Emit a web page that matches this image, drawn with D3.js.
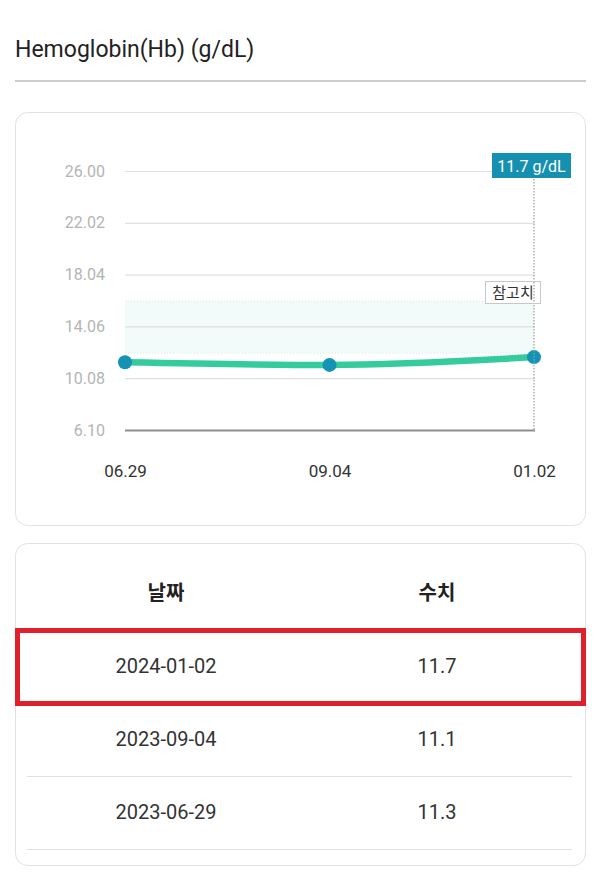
<!DOCTYPE html>
<html><head><meta charset="utf-8">
<script src="https://cdn.jsdelivr.net/npm/d3@7"></script>
<style>
html,body{margin:0;padding:0;background:#fff;}
text{font-family:Roboto,"Noto Sans CJK KR","Noto Sans",sans-serif;}
</style></head>
<body><svg id="c" width="600" height="879"></svg>
<script>
const dates = ["06.29","09.04","01.02"];
const values = [11.3, 11.1, 11.7];
const yTicks = [6.10, 10.08, 14.06, 18.04, 22.02, 26.00];
const refRange = [12, 16];
const title = "Hemoglobin(Hb) (g/dL)";
const unit = "g/dL";
const refLabel = "참고치";
const tableHeaders = ["날짜","수치"];
const tableDates = ["2024-01-02","2023-09-04","2023-06-29"];
const tableValues = ["11.7","11.1","11.3"];

const svg = d3.select("#c");

// title
svg.append("text").attr("x",15).attr("y",57).attr("font-size",23).attr("fill","#222").text(title);
svg.append("line").attr("x1",15).attr("x2",586).attr("y1",81).attr("y2",81).attr("stroke","#9a9a9a").attr("stroke-width",1.2);

// chart card
svg.append("rect").attr("x",15.5).attr("y",112.5).attr("width",570).attr("height",413).attr("rx",12)
  .attr("fill","#fff").attr("stroke","#e2e2e2");

const x = d3.scalePoint().domain(dates).range([125,534]);
const y = d3.scaleLinear().domain([6.1,26]).range([430,171]);

// reference band
const g = svg.append("g");
g.append("rect").attr("x",125).attr("width",409).attr("y",y(refRange[1])).attr("height",y(refRange[0])-y(refRange[1]))
  .attr("fill","#f3fafa");
[refRange[0],refRange[1]].forEach(v=>{
  g.append("line").attr("x1",125).attr("x2",534).attr("y1",y(v)).attr("y2",y(v))
   .attr("stroke","#dde9ea").attr("stroke-dasharray","1,2");
});

// grid + y axis
const yAxis = d3.axisLeft(y).tickValues(yTicks).tickFormat(d3.format(".2f")).tickSize(-410).tickPadding(20);
const ya = svg.append("g").attr("transform","translate(125,0)").call(yAxis);
ya.select(".domain").remove();
ya.selectAll(".tick line").attr("stroke",(d)=> d===6.10 ? "#8c9094" : "#e0e0e0").attr("stroke-width",(d)=>d===6.10?2:1.2);
ya.selectAll(".tick text").attr("fill","#b4b4b4").attr("font-size",16).attr("font-family","Roboto,sans-serif");

// x axis labels
const xa = svg.append("g").attr("transform","translate(0,430)").call(d3.axisBottom(x).tickSize(0).tickPadding(35));
xa.select(".domain").remove();
xa.selectAll(".tick text").attr("fill","#333").attr("font-size",17).attr("font-family","Roboto,sans-serif");

// vertical dotted line
svg.append("line").attr("x1",x(dates[2])).attr("x2",x(dates[2])).attr("y1",176).attr("y2",430)
  .attr("stroke","#888").attr("stroke-width",1).attr("stroke-dasharray","1.5,1.5");

// line
const line = d3.line().x((d,i)=>x(dates[i])).y(d=>y(d)).curve(d3.curveMonotoneX);
svg.append("path").datum(values).attr("d",line).attr("fill","none").attr("stroke","#34cc9c").attr("stroke-width",6.5).attr("stroke-linecap","round");
svg.selectAll("circle.pt").data(values).enter().append("circle").attr("class","pt")
  .attr("cx",(d,i)=>x(dates[i])).attr("cy",d=>y(d)).attr("r",7).attr("fill","#1593b4");
// redraw dotted line over last point
svg.append("line").attr("x1",x(dates[2])).attr("x2",x(dates[2])).attr("y1",y(values[2])-7).attr("y2",y(values[2])+7)
  .attr("stroke","#7fb8c8").attr("stroke-width",1).attr("stroke-dasharray","1.5,1.5");

// reference label
svg.append("rect").attr("x",485.5).attr("y",281.5).attr("width",55).attr("height",22).attr("fill","#fff").attr("stroke","#c8c8c8");
svg.append("text").attr("x",513).attr("y",298).attr("text-anchor","middle").attr("font-size",15).attr("fill","#333")
  .attr("font-family","'Noto Sans CJK KR',sans-serif").text(refLabel);
svg.append("line").attr("x1",x(dates[2])).attr("x2",x(dates[2])).attr("y1",282).attr("y2",303)
  .attr("stroke","#888").attr("stroke-dasharray","1.5,1.5");

// tooltip
svg.append("rect").attr("x",492).attr("y",153).attr("width",79).attr("height",25).attr("fill","#1690b0");
svg.append("text").attr("x",531.5).attr("y",171.5).attr("text-anchor","middle").attr("font-size",16).attr("fill","#fff")
  .text(values[2] + " " + unit);

// table card
svg.append("rect").attr("x",15.5).attr("y",543.5).attr("width",570).attr("height",322).attr("rx",12)
  .attr("fill","#fff").attr("stroke","#e2e2e2");
const colX = [166, 437];
tableHeaders.forEach((h,i)=>{
  svg.append("text").attr("x",colX[i]).attr("y",600).attr("text-anchor","middle").attr("font-size",20)
    .attr("font-weight","bold").attr("fill","#222").attr("font-family","'Noto Sans CJK KR',sans-serif").text(h);
});
const rowY = d3.scalePoint().domain(d3.range(tableDates.length)).range([666,812]);
tableDates.forEach((d,i)=>{
  svg.append("text").attr("x",colX[0]).attr("y",rowY(i)+7).attr("text-anchor","middle").attr("font-size",20).attr("fill","#333").text(d);
  svg.append("text").attr("x",colX[1]).attr("y",rowY(i)+7).attr("text-anchor","middle").attr("font-size",20).attr("fill","#333").text(tableValues[i]);
  svg.append("line").attr("x1",27).attr("x2",572).attr("y1",rowY(i)+37.5).attr("y2",rowY(i)+37.5).attr("stroke","#e0e0e0");
});
// highlight
svg.append("rect").attr("x",17.5).attr("y",630.5).attr("width",566).attr("height",73).attr("fill","none")
  .attr("stroke","#e0212c").attr("stroke-width",5);
</script></body></html>
